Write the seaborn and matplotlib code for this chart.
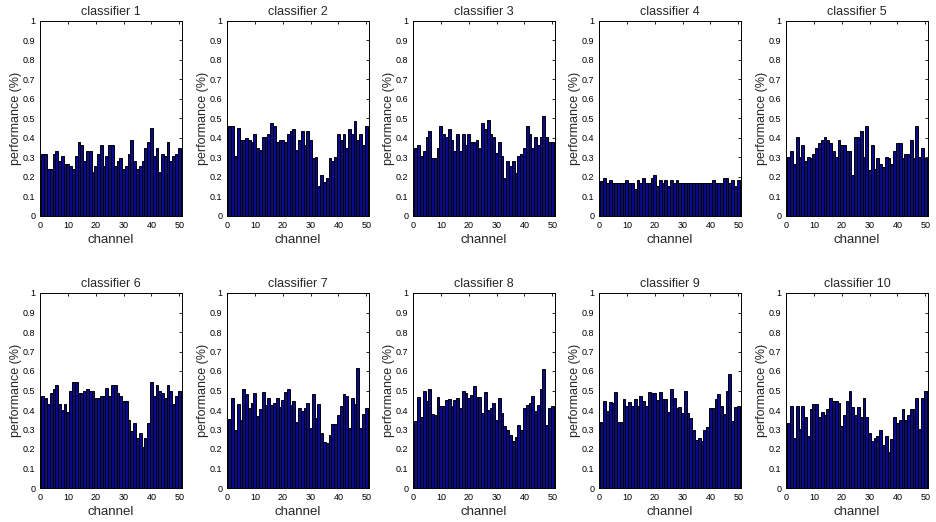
import numpy as np
import pandas as pd
import matplotlib
matplotlib.use("Agg")
import matplotlib.pyplot as plt
import seaborn as sns

channels = list(range(1, 51))

clf1 = [0.32, 0.32, 0.24, 0.24, 0.32, 0.335, 0.28, 0.31, 0.265, 0.265,
        0.255, 0.24, 0.31, 0.38, 0.365, 0.28, 0.335, 0.335, 0.225, 0.255,
        0.32, 0.365, 0.255, 0.31, 0.365, 0.365, 0.255, 0.28, 0.295, 0.24,
        0.255, 0.32, 0.39, 0.28, 0.24, 0.255, 0.28, 0.35, 0.38, 0.45,
        0.31, 0.35, 0.225, 0.32, 0.31, 0.38, 0.28, 0.31, 0.32, 0.35]
clf2 = [0.46, 0.46, 0.31, 0.45, 0.39, 0.39, 0.40, 0.39, 0.38, 0.42,
        0.35, 0.34, 0.405, 0.405, 0.42, 0.475, 0.46, 0.38, 0.39, 0.39,
        0.38, 0.42, 0.435, 0.445, 0.34, 0.39, 0.435, 0.365, 0.435, 0.39,
        0.295, 0.305, 0.155, 0.21, 0.175, 0.195, 0.295, 0.28, 0.305, 0.42,
        0.39, 0.42, 0.35, 0.445, 0.42, 0.485, 0.39, 0.42, 0.365, 0.46]
clf3 = [0.35, 0.365, 0.31, 0.335, 0.405, 0.435, 0.295, 0.295, 0.35, 0.46,
        0.42, 0.405, 0.445, 0.39, 0.335, 0.42, 0.335, 0.42, 0.365, 0.42,
        0.38, 0.38, 0.39, 0.35, 0.475, 0.445, 0.49, 0.42, 0.405, 0.325,
        0.38, 0.31, 0.195, 0.28, 0.255, 0.28, 0.22, 0.31, 0.32, 0.35,
        0.46, 0.42, 0.35, 0.405, 0.365, 0.405, 0.515, 0.405, 0.38, 0.38]
clf4 = [0.18, 0.195, 0.17, 0.185, 0.17, 0.17, 0.17, 0.17, 0.17, 0.185,
        0.17, 0.17, 0.14, 0.185, 0.17, 0.195, 0.17, 0.17, 0.195, 0.21,
        0.155, 0.185, 0.17, 0.185, 0.155, 0.185, 0.17, 0.185, 0.17, 0.17,
        0.17, 0.17, 0.17, 0.17, 0.17, 0.17, 0.17, 0.17, 0.17, 0.17,
        0.185, 0.17, 0.17, 0.17, 0.195, 0.195, 0.17, 0.185, 0.155, 0.185]
clf5 = [0.305, 0.335, 0.265, 0.405, 0.305, 0.365, 0.28, 0.305, 0.295, 0.32,
        0.35, 0.375, 0.39, 0.405, 0.39, 0.375, 0.335, 0.305, 0.39, 0.365,
        0.365, 0.335, 0.335, 0.21, 0.405, 0.405, 0.435, 0.305, 0.46, 0.235,
        0.365, 0.24, 0.295, 0.265, 0.25, 0.305, 0.295, 0.265, 0.335, 0.375,
        0.375, 0.295, 0.32, 0.32, 0.39, 0.295, 0.46, 0.305, 0.35, 0.295]
clf6 = [0.47, 0.46, 0.43, 0.485, 0.51, 0.53, 0.43, 0.40, 0.43, 0.39,
        0.50, 0.545, 0.545, 0.485, 0.485, 0.50, 0.51, 0.50, 0.50, 0.46,
        0.46, 0.47, 0.47, 0.515, 0.47, 0.53, 0.53, 0.485, 0.47, 0.445,
        0.445, 0.35, 0.29, 0.335, 0.255, 0.28, 0.21, 0.255, 0.335, 0.545,
        0.47, 0.53, 0.50, 0.485, 0.46, 0.53, 0.50, 0.43, 0.47, 0.50]
clf7 = [0.355, 0.46, 0.30, 0.43, 0.35, 0.51, 0.48, 0.41, 0.435, 0.485,
        0.37, 0.405, 0.49, 0.425, 0.46, 0.425, 0.435, 0.46, 0.415, 0.45,
        0.49, 0.51, 0.425, 0.445, 0.34, 0.41, 0.395, 0.41, 0.435, 0.31,
        0.48, 0.36, 0.43, 0.28, 0.235, 0.23, 0.27, 0.33, 0.33, 0.375,
        0.42, 0.48, 0.47, 0.31, 0.46, 0.43, 0.615, 0.31, 0.38, 0.41]
clf8 = [0.345, 0.465, 0.365, 0.50, 0.445, 0.51, 0.38, 0.375, 0.465, 0.42,
        0.42, 0.45, 0.455, 0.42, 0.45, 0.46, 0.41, 0.50, 0.485, 0.46,
        0.475, 0.525, 0.465, 0.465, 0.385, 0.49, 0.40, 0.41, 0.435, 0.35,
        0.46, 0.385, 0.32, 0.295, 0.27, 0.24, 0.26, 0.325, 0.30, 0.41,
        0.425, 0.435, 0.47, 0.395, 0.425, 0.51, 0.61, 0.325, 0.41, 0.42]
clf9 = [0.34, 0.445, 0.395, 0.44, 0.435, 0.49, 0.34, 0.34, 0.455, 0.42,
        0.44, 0.42, 0.455, 0.42, 0.47, 0.445, 0.42, 0.49, 0.485, 0.485,
        0.45, 0.49, 0.455, 0.455, 0.39, 0.51, 0.46, 0.41, 0.415, 0.385,
        0.50, 0.385, 0.36, 0.295, 0.245, 0.255, 0.24, 0.295, 0.315, 0.41,
        0.41, 0.455, 0.48, 0.42, 0.38, 0.50, 0.585, 0.345, 0.415, 0.42]
clf10 = [0.335, 0.42, 0.255, 0.42, 0.305, 0.42, 0.365, 0.265, 0.405, 0.43,
         0.43, 0.365, 0.39, 0.375, 0.405, 0.46, 0.445, 0.445, 0.435, 0.32,
         0.375, 0.445, 0.50, 0.415, 0.375, 0.415, 0.365, 0.46, 0.365, 0.28,
         0.24, 0.255, 0.265, 0.295, 0.22, 0.265, 0.185, 0.25, 0.365, 0.335,
         0.35, 0.405, 0.35, 0.375, 0.405, 0.405, 0.46, 0.305, 0.46, 0.50]

titles = ["classifier 1", "classifier 2", "classifier 3", "classifier 4", "classifier 5",
          "classifier 6", "classifier 7", "classifier 8", "classifier 9", "classifier 10"]
series = [clf1, clf2, clf3, clf4, clf5, clf6, clf7, clf8, clf9, clf10]
yticks = [0, 0.1, 0.2, 0.3, 0.4, 0.5, 0.6, 0.7, 0.8, 0.9, 1]
ytick_labels = ["0", "0.1", "0.2", "0.3", "0.4", "0.5", "0.6", "0.7", "0.8", "0.9", "1"]
xticks = [0, 10, 20, 30, 40, 50]

sns.set_style("white")
plt.rcParams["font.family"] = ["Liberation Sans", "DejaVu Sans"]

fig = plt.figure(figsize=(9.36, 5.22), dpi=100)

W, H = 936, 522
col_left = [40, 227, 413, 599, 786]
ax_w = 142
row_top = [21, 293]
ax_h = 195

for i, (title, vals) in enumerate(zip(titles, series)):
    r, c = divmod(i, 5)
    left = col_left[c] / W
    bottom = 1 - (row_top[r] + ax_h) / H
    ax = fig.add_axes([left, bottom, ax_w / W, ax_h / H])
    df = pd.DataFrame({"channel": channels, "perf": vals})
    sns.histplot(data=df, x="channel", weights="perf", discrete=True, shrink=1.0,
                 color="#0a0a8c", edgecolor="black", linewidth=0.7, alpha=1.0, ax=ax)
    ax.set_xlim(0, 51)
    ax.set_ylim(0, 1)
    ax.set_xticks(xticks)
    ax.set_xticklabels([str(t) for t in xticks], fontsize=6.5)
    ax.set_yticks(yticks)
    ax.set_yticklabels(ytick_labels, fontsize=6.5)
    ax.tick_params(direction="in", length=2.5, width=0.6, top=True, right=True, pad=3.5,
                   colors="black")
    for sp in ax.spines.values():
        sp.set_visible(True)
        sp.set_color("black")
        sp.set_linewidth(0.7)
    ax.set_title(title, fontsize=9, pad=4)
    ax.set_xlabel("channel", fontsize=9.5, labelpad=3)
    ax.set_ylabel("performance (%)", fontsize=9, labelpad=0.5)

fig.savefig("out.png", dpi=100, facecolor="white")
